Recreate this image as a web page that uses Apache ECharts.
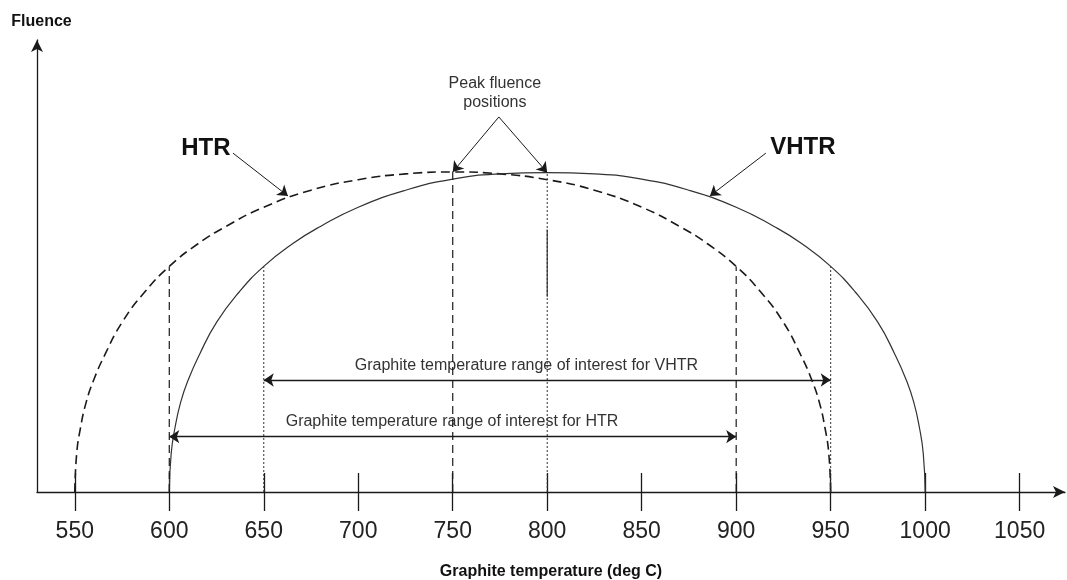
<!DOCTYPE html>
<html>
<head>
<meta charset="utf-8">
<title>Graphite fluence</title>
<script src="https://cdn.jsdelivr.net/npm/echarts@6/dist/echarts.min.js"></script>
<style>
    html, body { margin: 0; padding: 0; background: #fff; }
    #main { width: 1067px; height: 580px; }
</style>
</head>
<body>
<div id="main"></div>
<script type="text/javascript">
    // temperature axis ticks (deg C)
    var xTicks = [550, 600, 650, 700, 750, 800, 850, 900, 950, 1000, 1050];

    // HTR curve (dashed); fluence in relative units, peak ~100
    var htrTemp    = [550, 551, 553, 556, 560, 566, 575, 587, 600, 615, 630, 650, 675, 700, 725, 750,
                      775, 800, 825, 850, 870, 885, 900, 913, 925, 934, 940, 944, 947, 949, 950];
    var htrFluence = [0, 12, 20, 28, 35, 43, 53, 62.5, 70.5, 77.5, 83, 89, 94.3, 97.6, 99.4, 100,
                      99.4, 97.6, 94.3, 89, 83, 77.5, 70.5, 62.5, 53, 43, 35, 28, 20, 12, 0];

    // VHTR curve (solid)
    var vhtrTemp    = [600, 601, 603, 606, 610, 616, 625, 637, 650, 665, 680, 700, 725, 750, 775, 800,
                       825, 850, 875, 900, 920, 935, 950, 963, 975, 984, 990, 994, 997, 999, 1000];
    var vhtrFluence = [0, 12, 20, 28, 35, 43, 53, 62.5, 70.5, 77.5, 83, 89, 94.3, 97.8, 99.4, 99.8,
                       99.4, 97.8, 94.3, 89, 83, 77.5, 70.5, 62.5, 53, 43, 35, 28, 20, 12, 0];

    // drop lines and ranges of interest
    var htrDrops = [600, 750, 900];
    var vhtrDrops = [650, 800, 950];
    var htrRange = [600, 900];
    var vhtrRange = [650, 950];
    var peakSolidPart = [61, 82];   // short solid piece on the 800 line

    function fluenceAt(temps, vals, t) {
        return vals[temps.indexOf(t)];
    }
    function pairs(xs, ys) {
        return xs.map(function (x, i) { return [x, ys[i]]; });
    }

    var ink = '#1a1a1a';
    var font = '"Liberation Sans", Arial, Helvetica, sans-serif';

    var series = [
        {
            name: 'HTR', type: 'line', data: pairs(htrTemp, htrFluence),
            smooth: 0.5, symbol: 'none',
            lineStyle: { color: ink, width: 1.6, type: [9, 5] }
        },
        {
            name: 'VHTR', type: 'line', data: pairs(vhtrTemp, vhtrFluence),
            smooth: 0.5, symbol: 'none',
            lineStyle: { color: '#333', width: 1.2 },
            markLine: {
                silent: true, symbol: ['arrow', 'arrow'], symbolSize: 10,
                label: { show: false },
                lineStyle: { color: ink, width: 1.3, type: 'solid' },
                data: [
                    [{ coord: [vhtrRange[0], 35] }, { coord: [vhtrRange[1], 35] }],
                    [{ coord: [htrRange[0], 17.3] }, { coord: [htrRange[1], 17.3] }]
                ]
            }
        }
    ];

    htrDrops.forEach(function (t) {
        series.push({
            type: 'line', symbol: 'none',
            data: [[t, 0], [t, fluenceAt(htrTemp, htrFluence, t)]],
            lineStyle: { color: ink, width: 1.2, type: [8, 5] }
        });
    });
    vhtrDrops.forEach(function (t) {
        series.push({
            type: 'line', symbol: 'none',
            data: [[t, 0], [t, fluenceAt(vhtrTemp, vhtrFluence, t)]],
            lineStyle: { color: '#333', width: 1, type: [2, 2] }
        });
    });
    series.push({
        type: 'line', symbol: 'none',
        data: [[800, peakSolidPart[0]], [800, peakSolidPart[1]]],
        lineStyle: { color: '#333', width: 1.2 }
    });

    // text notes and pointer arrows
    series.push({
        type: 'scatter', symbolSize: 0, silent: true,
        itemStyle: { opacity: 1 },
        label: {
            show: true, position: 'inside', color: ink, fontFamily: font,
            formatter: function (p) { return p.name; }
        },
        data: [
            { name: 'Peak fluence\npositions', value: [772.3, 124.6], label: { fontSize: 16, lineHeight: 19, color: '#333' } },
            { name: 'HTR', value: [619.4, 107.5], label: { fontSize: 24, fontWeight: 'bold', color: '#111' } },
            { name: 'VHTR', value: [935.3, 107.8], label: { fontSize: 24, fontWeight: 'bold', color: '#111' } },
            { name: 'Graphite temperature range of interest for VHTR', value: [789, 39.4], label: { fontSize: 16, color: '#333' } },
            { name: 'Graphite temperature range of interest for HTR', value: [749.6, 21.9], label: { fontSize: 16, color: '#333' } }
        ],
        markLine: {
            silent: true, symbol: ['none', 'arrow'], symbolSize: 10,
            label: { show: false },
            lineStyle: { color: ink, width: 1, type: 'solid' },
            data: [
                [{ coord: [774.4, 117.2] }, { coord: [750, fluenceAt(htrTemp, htrFluence, 750)] }],
                [{ coord: [774.4, 117.2] }, { coord: [800, fluenceAt(vhtrTemp, vhtrFluence, 800)] }],
                [{ coord: [633.7, 105.9] }, { coord: [662.8, 92.5] }],
                [{ coord: [915.7, 105.9] }, { coord: [886.1, 92.5] }]
            ]
        }
    });

    var chart = echarts.init(document.getElementById('main'));
    var option = {
        animation: false,
        backgroundColor: '#fff',
        grid: { left: 37, top: 40, width: 1028, height: 452, outerBoundsMode: 'none' },
        xAxis: [
            {
                type: 'value', min: 530, max: 1074,
                name: 'Graphite temperature (deg C)',
                nameLocation: 'middle', nameGap: 72,
                nameTextStyle: { color: '#111', fontSize: 16, fontWeight: 'bold', fontFamily: font },
                axisLine: { lineStyle: { color: ink, width: 1.3 }, symbol: ['none', 'arrow'], symbolSize: [9, 12] },
                axisTick: { show: true, length: 19, customValues: xTicks, lineStyle: { color: ink, width: 1.3 } },
                axisLabel: {
                    customValues: xTicks, margin: 28, fontSize: 23, color: '#222', fontFamily: font,
                    formatter: function (v) { return String(v); }
                },
                splitLine: { show: false }
            },
            {
                // second copy of the axis only to draw the upper half of each tick
                type: 'value', min: 530, max: 1074, position: 'bottom',
                axisLine: { show: false },
                axisTick: { show: true, inside: true, length: 19, customValues: xTicks, lineStyle: { color: ink, width: 1.3 } },
                axisLabel: { show: false },
                splitLine: { show: false }
            }
        ],
        yAxis: {
            type: 'value', min: 0, max: 141.25,
            name: 'Fluence', nameLocation: 'end', nameGap: 10,
            nameTextStyle: { color: '#111', fontSize: 16, fontWeight: 'bold', fontFamily: font, padding: [0, 0, 0, 9] },
            axisLine: { show: true, lineStyle: { color: ink, width: 1.3 }, symbol: ['none', 'arrow'], symbolSize: [9, 12] },
            axisTick: { show: false },
            axisLabel: { show: false },
            splitLine: { show: false }
        },
        series: series
    };
    chart.setOption(option);
</script>
</body>
</html>
